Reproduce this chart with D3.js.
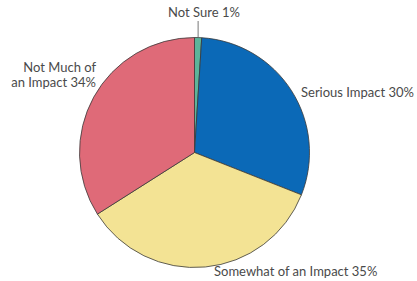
<!DOCTYPE html>
<html><head><meta charset="utf-8">
<script src="https://cdn.jsdelivr.net/npm/d3@7"></script>
<style>
html,body{margin:0;padding:0;background:#fff;}
svg{display:block;}
text{font-family:"Lato","Open Sans",sans-serif;fill:#4a4a4a;font-size:13px;}
</style></head>
<body>
<script>
const categories = ["Not Sure", "Serious Impact", "Somewhat of an Impact", "Not Much of an Impact"];
const values = [1, 30, 35, 34];
const colors = ["#5db49a", "#0b69b7", "#f3e394", "#df6a78"];

const W = 417, H = 281;
const cx = 194.5, cy = 152.5, R = 115;

const svg = d3.select("body").append("svg").attr("width", W).attr("height", H);
const g = svg.append("g").attr("transform", `translate(${cx},${cy})`);

const pie = d3.pie().sort(null).value(d => d)(values);
const arc = d3.arc().innerRadius(0).outerRadius(R);

g.selectAll("path").data(pie).join("path")
  .attr("d", arc)
  .attr("fill", (d, i) => colors[i])
  .attr("stroke", "#3a3a3a")
  .attr("stroke-width", 0.8)
  .attr("stroke-linejoin", "round");

// label layout (positions relative to chart, not data)
const labelLayout = [
  {x: 204, y: 17, anchor: "middle", lines: ["Not Sure 1%"]},
  {x: 301, y: 97, anchor: "start", lines: ["Serious Impact 30%"]},
  {x: 214, y: 276, anchor: "start", lines: ["Somewhat of an Impact 35%"]},
  {x: 96, y: 72, anchor: "end", lines: ["Not Much of", "an Impact 34%"]}
];

labelLayout.forEach((L, i) => {
  L.lines.forEach((ln, j) => {
    svg.append("text").attr("text-anchor", L.anchor)
      .attr("x", L.x).attr("y", L.y + j * 15).text(ln);
  });
});

// leader line for Not Sure
const a = (pie[0].startAngle + pie[0].endAngle) / 2;
const x0 = cx + Math.sin(a) * R;
svg.append("line")
  .attr("x1", x0).attr("x2", x0)
  .attr("y1", 21).attr("y2", cy - Math.cos(a) * R)
  .attr("stroke", "#555").attr("stroke-width", 0.8);
</script>
</body></html>
